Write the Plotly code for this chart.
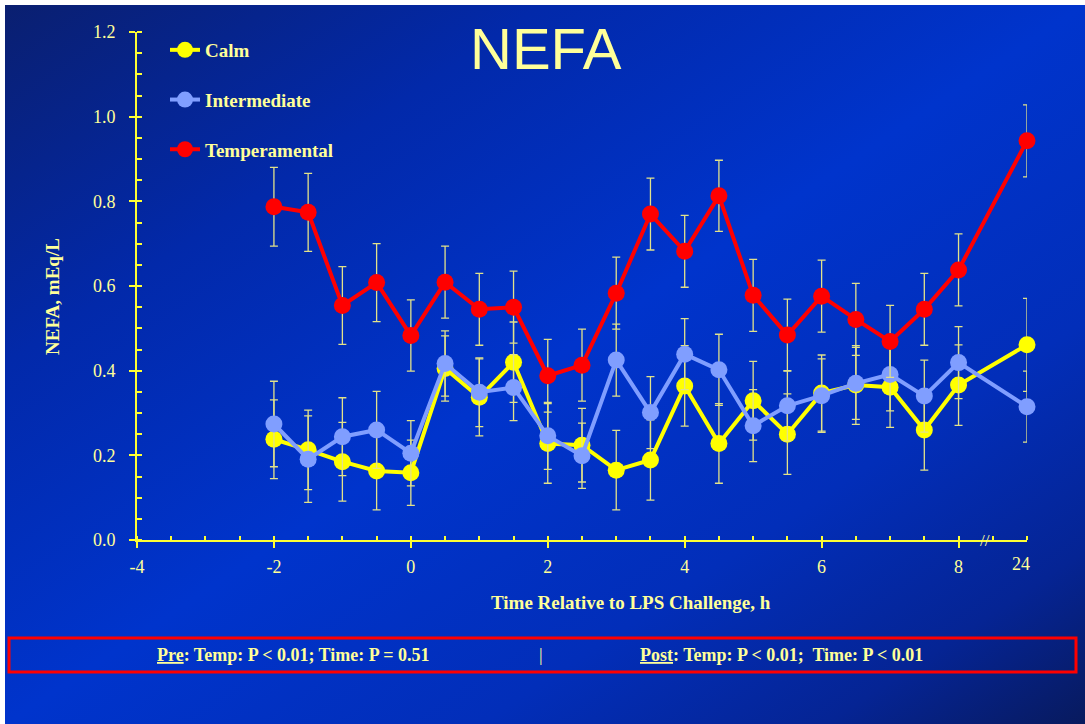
import base64
import plotly.graph_objects as go

# Sampling times (h relative to LPS challenge); 24 h sits after an axis break
hours = [-2, -1.5, -1, -0.5, 0, 0.5, 1, 1.5, 2, 2.5, 3, 3.5, 4, 4.5, 5, 5.5, 6, 6.5, 7, 7.5, 8, 24]

calm = [0.238, 0.213, 0.185, 0.163, 0.159, 0.405, 0.337, 0.420, 0.228, 0.224, 0.165,
        0.189, 0.364, 0.228, 0.329, 0.250, 0.347, 0.366, 0.361, 0.260, 0.366, 0.461]
calm_se = [0.093, 0.094, 0.093, 0.092, 0.077, 0.077, 0.091, 0.095, 0.094, 0.087, 0.094,
           0.095, 0.095, 0.094, 0.093, 0.095, 0.090, 0.093, 0.095, 0.095, 0.095, 0.110]

intermediate = [0.274, 0.191, 0.244, 0.260, 0.205, 0.417, 0.349, 0.360, 0.246, 0.199, 0.425,
                0.301, 0.439, 0.402, 0.270, 0.317, 0.341, 0.370, 0.391, 0.340, 0.419, 0.315]
intermediate_se = [0.101, 0.102, 0.092, 0.091, 0.077, 0.077, 0.081, 0.078, 0.079, 0.077, 0.085,
                   0.085, 0.084, 0.084, 0.085, 0.083, 0.087, 0.085, 0.086, 0.085, 0.085, 0.084]

temperamental = [0.787, 0.774, 0.554, 0.608, 0.483, 0.609, 0.545, 0.550, 0.388, 0.413, 0.583,
                 0.770, 0.682, 0.813, 0.578, 0.484, 0.576, 0.521, 0.469, 0.545, 0.638, 0.943]
temperamental_se = [0.093, 0.092, 0.092, 0.092, 0.084, 0.085, 0.085, 0.085, 0.086, 0.085, 0.085,
                    0.085, 0.085, 0.084, 0.085, 0.085, 0.085, 0.085, 0.085, 0.085, 0.085, 0.085]

x_ticks = [-4, -2, 0, 2, 4, 6, 8]
break_label = "24"

# Figure geometry (pixels)
FIG_W, FIG_H = 1085, 724
L, T, W, H = 137, 32, 890, 508

TEXT = "#FFFF99"
AXIS = "#FFFF33"
ERR = "#E2E28A"
SERIF = "Liberation Serif"


def axis_pos(h):
    """Times beyond the break are drawn at the last axis slot."""
    return h if h <= 8 else 9


def px_x(px):
    return (px - L) / W


def px_y(py):
    return (T + H - py) / H


xs = [axis_pos(h) for h in hours]

# Diagonal blue backdrop
svg = (
    '<svg xmlns="http://www.w3.org/2000/svg" width="1080" height="719" viewBox="0 0 1080 719" '
    'preserveAspectRatio="none"><defs><linearGradient id="g" x1="0" y1="0" x2="1" y2="1">'
    '<stop offset="0" stop-color="#0a1f70"/>'
    '<stop offset="0.25" stop-color="#0229aa"/>'
    '<stop offset="0.5" stop-color="#0034cc"/>'
    '<stop offset="0.72" stop-color="#022eb9"/>'
    '<stop offset="0.88" stop-color="#052494"/>'
    '<stop offset="1" stop-color="#081a5e"/>'
    '</linearGradient></defs><rect width="1080" height="719" fill="url(#g)"/></svg>'
)
bg_src = "data:image/svg+xml;base64," + base64.b64encode(svg.encode()).decode()

fig = go.Figure()

series = [
    ("Calm", calm, calm_se, "#FFFF00"),
    ("Intermediate", intermediate, intermediate_se, "#809EFF"),
    ("Temperamental", temperamental, temperamental_se, "#FF0000"),
]
for name, vals, se, color in series:
    fig.add_trace(go.Scatter(
        x=xs, y=vals, name=name, legendgroup=name,
        mode="lines+markers", cliponaxis=False,
        line=dict(color=color, width=4),
        marker=dict(color=color, size=17),
        error_y=dict(type="data", array=se, color=ERR, thickness=1.3, width=4),
    ))

tick_font = dict(family=SERIF, size=18, color=TEXT)

fig.update_layout(
    width=FIG_W, height=FIG_H,
    margin=dict(l=L, r=FIG_W - L - W, t=T, b=FIG_H - T - H, pad=0),
    paper_bgcolor="white",
    plot_bgcolor="rgba(0,0,0,0)",
    showlegend=True,
    legend=dict(
        x=px_x(165), y=px_y(31), xanchor="left", yanchor="top",
        bgcolor="rgba(0,0,0,0)", borderwidth=0,
        font=dict(family=SERIF, size=19, color=TEXT, weight="bold"),
        tracegroupgap=22, itemwidth=30,
    ),
    images=[dict(
        source=bg_src, xref="paper", yref="paper",
        x=px_x(5), y=px_y(5), sizex=px_x(FIG_W) - px_x(5), sizey=px_y(5) - px_y(FIG_H),
        xanchor="left", yanchor="top", sizing="stretch", layer="below",
    )],
    xaxis=dict(
        range=[-4, 9], tickvals=x_ticks, ticktext=[str(v) for v in x_ticks],
        showgrid=False, zeroline=False,
        showline=True, linecolor=AXIS, linewidth=2,
        ticks="outside", ticklen=6, tickwidth=2, tickcolor=AXIS,
        minor=dict(dtick=0.5, tick0=-4, ticks="inside", ticklen=4, tickwidth=2, tickcolor=AXIS),
        tickfont=tick_font, ticklabelstandoff=3,
    ),
    xaxis2=dict(
        range=[-4, 9], overlaying="x", anchor="y", side="bottom",
        tickvals=x_ticks, showticklabels=False, showgrid=False, zeroline=False, showline=False,
        ticks="inside", ticklen=4, tickwidth=2, tickcolor=AXIS,
    ),
    yaxis=dict(
        range=[0, 1.2], dtick=0.2, tickformat=".1f",
        showgrid=False, zeroline=False,
        showline=True, linecolor=AXIS, linewidth=2,
        ticks="outside", ticklen=6, tickwidth=2, tickcolor=AXIS,
        minor=dict(dtick=0.05, ticks="inside", ticklen=5, tickwidth=2, tickcolor=AXIS),
        tickfont=tick_font, ticklabelstandoff=10,
    ),
    yaxis2=dict(
        range=[0, 1.2], overlaying="y", anchor="x", side="left",
        dtick=0.2, showticklabels=False, showgrid=False, zeroline=False, showline=False,
        ticks="inside", ticklen=5, tickwidth=2, tickcolor=AXIS,
    ),
)

annotations = [
    dict(text="NEFA", x=px_x(546), y=px_y(48), xanchor="center", yanchor="middle",
         font=dict(family="Liberation Sans", size=58, color=TEXT)),
    dict(text="<b>NEFA, mEq/L</b>", x=px_x(52), y=px_y(297), textangle=-90,
         xanchor="center", yanchor="middle", font=dict(family=SERIF, size=19, color=TEXT)),
    dict(text="<b>Time Relative to LPS Challenge, h</b>", x=px_x(631), y=px_y(602),
         xanchor="center", yanchor="middle", font=dict(family=SERIF, size=19, color=TEXT)),
    dict(text=break_label, x=px_x(1021), y=px_y(564), xanchor="center", yanchor="middle",
         font=tick_font),
    dict(text="//", x=px_x(985), y=px_y(540), xanchor="center", yanchor="middle",
         font=dict(family=SERIF, size=17, color=TEXT)),
    dict(text="<b><u>Pre</u>: Temp: P &lt; 0.01; Time: P = 0.51</b>", x=px_x(155), y=px_y(655),
         xanchor="left", yanchor="middle", font=dict(family=SERIF, size=18, color=TEXT)),
    dict(text="|", x=px_x(541), y=px_y(655), xanchor="center", yanchor="middle",
         font=dict(family=SERIF, size=18, color=TEXT)),
    dict(text="<b><u>Post</u>: Temp: P &lt; 0.01;&#160; Time: P &lt; 0.01</b>", x=px_x(638),
         y=px_y(655), xanchor="left", yanchor="middle",
         font=dict(family=SERIF, size=18, color=TEXT)),
]
for a in annotations:
    a.update(xref="paper", yref="paper", showarrow=False)
fig.update_layout(annotations=annotations)

# Red frame around the statistics line
fig.add_shape(type="rect", xref="paper", yref="paper",
              x0=px_x(9), x1=px_x(1076), y0=px_y(638), y1=px_y(672),
              line=dict(color="#FF0000", width=3), fillcolor="rgba(0,0,0,0)")

fig.write_html("out.html")
